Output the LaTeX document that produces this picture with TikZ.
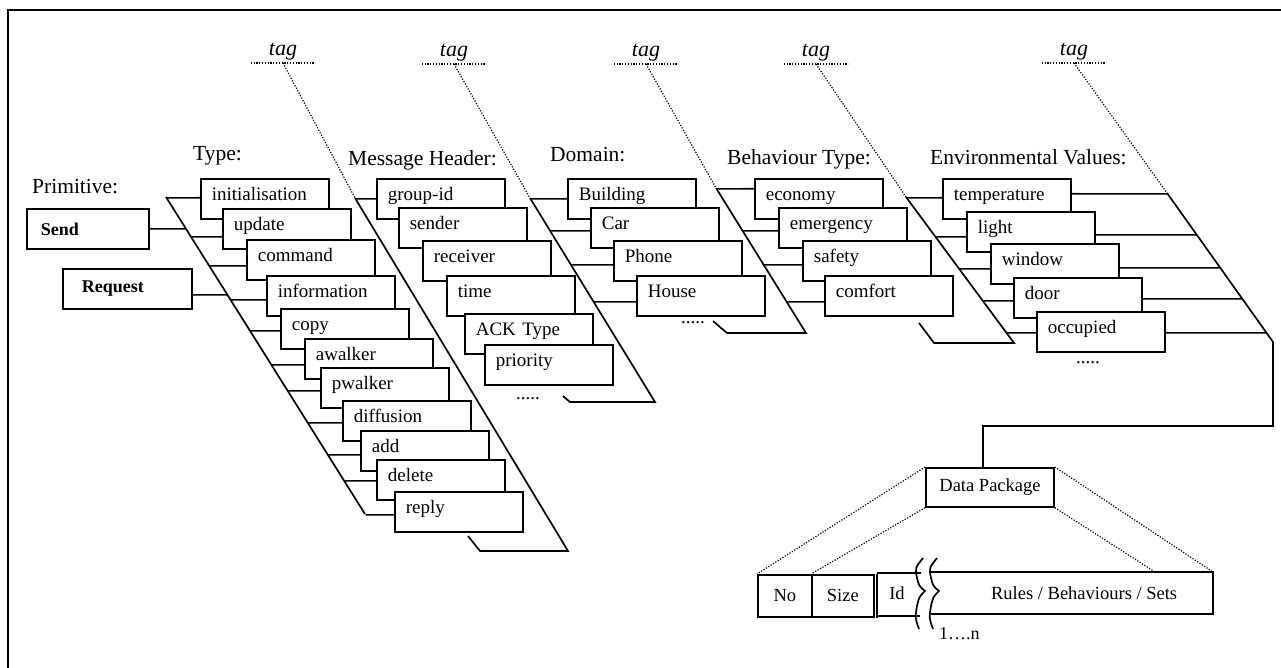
\documentclass[tikz,border=0pt]{standalone}
\usepackage{fontspec}
\setmainfont{Liberation Serif}
\usetikzlibrary{calc}
\tikzset{
  line/.style={line width=1.7pt},
  dotline/.style={line width=1.2pt, dash pattern=on 1.2pt off 1.6pt},
  msg/.style={draw, line width=1.7pt, fill=white, anchor=north west,
    minimum width=128pt, minimum height=40pt, text width=106pt,
    inner xsep=11pt, inner ysep=0pt, text height=13pt, text depth=9pt,
    align=left, font=\fontsize{19}{22}\selectfont},
  prim/.style={draw, line width=1.7pt, anchor=north west, minimum height=40pt,
    inner ysep=0pt, align=left, font=\bfseries\fontsize{18}{20}\selectfont},
  cell/.style={draw, line width=1.7pt, anchor=north west, minimum height=42pt,
    inner sep=0pt, font=\fontsize{18.5}{20}\selectfont},
  title/.style={anchor=base west, inner sep=0pt, font=\fontsize{21.5}{24}\selectfont},
  tagnode/.style={anchor=south, minimum width=64pt, inner xsep=0pt, inner ysep=3pt,
    font=\itshape\fontsize{22}{24}\selectfont},
  dots/.style={anchor=base, inner sep=0pt, font=\fontsize{19}{20}\selectfont},
}
\newcommand{\msgbox}[4]{\node[msg] (#1) at (#2,#3) {#4};}
\newcommand{\busstub}[3]{\draw[line] ([yshift={-(#3)*1pt}]#1) -- (intersection cs:first line={(#2t)--(#2b)}, second line={([yshift={-(#3)*1pt}]#1)--([yshift={-(#3)*1pt},xshift=10pt]#1)});}
\newcommand{\wave}[1]{\draw[line] ({#1+2},558) .. controls ({#1-6},568) .. ({#1-4},578) .. controls ({#1-2},586) .. ({#1+4},591) .. controls ({#1-2},597) .. ({#1-4},606) .. controls ({#1-6},618) .. ({#1-2},629);}

\begin{document}
\begin{tikzpicture}[x=1pt,y=-1pt]
\useasboundingbox (0,0) rectangle (1281,668);
\draw[line width=2pt] (8,668) -- (8,10) -- (1281,10);

% ---- bus lines
\coordinate (Tt) at (166,197);  \coordinate (Tb) at (365,514);
\coordinate (Ht) at (355,198);  \coordinate (Hb) at (568,551);
\coordinate (Dt) at (530,198);  \coordinate (Db) at (655,402);
\coordinate (Bt) at (716,188);  \coordinate (Bb) at (806,333);
\coordinate (Et) at (906,197);  \coordinate (Eb) at (1014,343);
\coordinate (Rt) at (1167,193); \coordinate (Rb) at (1273,342);
\coordinate (Rc) at (1273,426);

\draw[line] (Tt) -- (Tb);
\draw[line] (Ht) -- (Hb) -- ++(-88,0) -- ++(-12,-15);
\draw[line] (Dt) -- (Db) -- ++(-85,0) -- ++(-7,-6);
\draw[line] (Bt) -- (Bb) -- ++(-79,0) -- ++(-14,-12);
\draw[line] (Et) -- (Eb) -- ++(-80,0) -- ++(-15,-20);

% ---- titles and tags
\node[title] (tprim) at (32,194) {Primitive:};
\node[title] (ttype) at (193,161) {Type:};
\node[title] (thead) at (348,166) {Message Header:};
\node[title] (tdom)  at (550,162) {Domain:};
\node[title] (tbeh)  at (727,165) {Behaviour Type:};
\node[title] (tenv)  at (930,165) {Environmental Values:};

\node[tagnode] (tagA) at (283,63) {tag};
\node[tagnode] (tagB) at (454,64) {tag};
\node[tagnode] (tagC) at (646,64) {tag};
\node[tagnode] (tagD) at (816,64) {tag};
\node[tagnode] (tagE) at (1074,63) {tag};
\foreach \t/\b in {tagA/Ht, tagB/Dt, tagC/Bt, tagD/Et, tagE/Rt} {
  \draw[dotline] (\t.south west) -- (\t.south east);
  \draw[dotline] (\t.south) -- (\b);
}

% ---- primitive
\node[prim, minimum width=122pt, text width=94pt, inner xsep=14pt] (send) at (26,208) {Send};
\node[prim, minimum width=129pt, text width=91pt, inner xsep=19pt] (req) at (62,268) {Request};
\busstub{send.east}{T}{0}
\busstub{req.east}{T}{6}

% ---- type
\msgbox{init}{200}{178}{initialisation}
\msgbox{upd}{222}{208}{update}
\msgbox{cmd}{246}{239}{command}
\msgbox{info}{266}{275}{information}
\msgbox{copy}{280}{308}{copy}
\msgbox{awalk}{304}{338}{awalker}
\msgbox{pwalk}{320}{367}{pwalker}
\msgbox{diff}{342}{400}{diffusion}
\msgbox{add}{360}{430}{add}
\msgbox{del}{376}{459}{delete}
\msgbox{reply}{394}{491}{reply}
\foreach \b/\d in {init/-1, upd/8, cmd/6, info/4, copy/2, awalk/6, pwalk/3, diff/2, add/4, del/1, reply/3} {
  \busstub{\b.west}{T}{\d}
}

% ---- message header
\msgbox{gid}{376}{178}{group-id}
\msgbox{sender}{398}{207}{sender}
\msgbox{recv}{422}{240}{receiver}
\msgbox{time}{446}{275}{time}
\msgbox{ack}{464}{313}{ACK Type}
\msgbox{prio}{484}{344}{priority}
\busstub{gid.west}{H}{0}
\node[dots] (hdots) at (528,399) {.....};

% ---- domain
\msgbox{bld}{567}{178}{Building}
\msgbox{car}{590}{207}{Car}
\msgbox{phone}{613}{240}{Phone}
\msgbox{house}{636}{275}{House}
\foreach \b/\d in {bld/0, car/3, phone/4, house/6} {
  \busstub{\b.west}{D}{\d}
}
\node[dots] (ddots) at (693,323) {.....};

% ---- behaviour type
\begin{scope}[every node/.append style={font=\fontsize{18}{22}\selectfont}]
\msgbox{eco}{754}{178}{economy}
\msgbox{emg}{778}{207}{emergency}
\msgbox{saf}{802}{240}{safety}
\msgbox{comf}{824}{275}{comfort}
\end{scope}
\foreach \b/\d in {eco/-10, emg/3, saf/4, comf/6} {
  \busstub{\b.west}{B}{\d}
}

% ---- environmental values
\begin{scope}[every node/.append style={font=\fontsize{18}{22}\selectfont}]
\msgbox{temp}{942}{178}{temperature}
\msgbox{light}{966}{211}{light}
\msgbox{win}{990}{243}{window}
\msgbox{door}{1013}{277}{door}
\msgbox{occ}{1036}{311}{occupied}
\end{scope}
\foreach \b/\d/\e in {temp/-1/-5, light/5/3, win/5/4, door/3/1, occ/1/1} {
  \busstub{\b.west}{E}{\d}
  \busstub{\b.east}{R}{\e}
}
\node[dots] (edots) at (1088,363) {.....};

% ---- data package
\node[cell, minimum width=128pt, minimum height=39pt, anchor=north] (dp) at (990,467) {Data Package};
\draw[line] (Rt) -- (Rb) -- (Rc) -| ([xshift=-7pt]dp.north);

\node[cell, minimum width=54pt] (no) at (757,574) {No};
\node[cell, minimum width=62pt] (size) at (811,574) {Size};
\node[inner sep=0pt, font=\fontsize{18.5}{20}\selectfont] (idc) at (897,593.5) {Id};
\draw[line] ([xshift=2pt]size.north east) -- ([xshift=2pt]size.south east);
\draw[line] ([xshift=2pt,yshift=1pt]size.north east) -- ++(44,0);
\draw[line] ([xshift=2pt,yshift=2pt]size.south east) -- ++(43,0);
\wave{921}
\wave{935}
\node[cell, draw=none, minimum width=280pt, minimum height=40pt, anchor=north east] (rules) at (1213,572) {\hspace*{24pt}Rules / Behaviours / Sets};
\draw[line] (rules.north west) -- (rules.north east) -- (rules.south east) -- (rules.south west);
\node[anchor=base west, inner sep=0pt, font=\fontsize{18}{20}\selectfont] (rng) at (939,639) {1\dots.n};

\coordinate (rk) at (1155,572);
\draw[dotline] (dp.north west) -- (no.north west);
\draw[dotline] (dp.south west) -- (size.north west);
\draw[dotline] (dp.north east) -- (rules.north east);
\draw[dotline] (dp.south east) -- (rk);
\end{tikzpicture}
\end{document}
